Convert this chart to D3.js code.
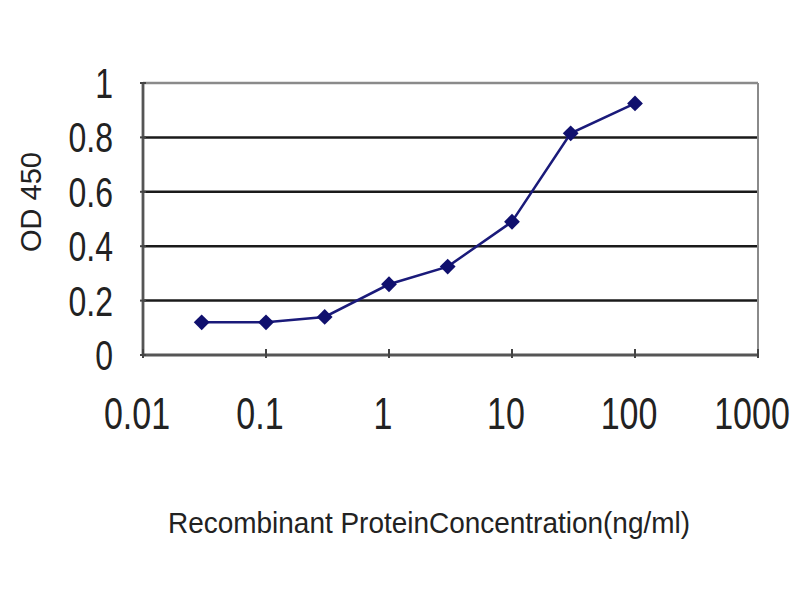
<!DOCTYPE html>
<html><head><meta charset="utf-8">
<script src="https://cdn.jsdelivr.net/npm/d3@7"></script>
<style>body{margin:0;background:#fff}</style>
</head><body>
<svg id="c" width="800" height="600"></svg>
<script>
const concentrations = [0.03, 0.1, 0.3, 1, 3, 10, 30, 100];
const odValues = [0.12, 0.12, 0.14, 0.26, 0.325, 0.49, 0.815, 0.925];
const xTicks = [0.01, 0.1, 1, 10, 100, 1000];
const xTickLabels = ["0.01", "0.1", "1", "10", "100", "1000"];
const yTicks = [0, 0.2, 0.4, 0.6, 0.8, 1];
const yTickLabels = ["0", "0.2", "0.4", "0.6", "0.8", "1"];

const svg = d3.select("#c");
const L = 143, R = 758, T = 83, B = 355;
const x = d3.scaleLog().domain([0.01, 1000]).range([L, R]);
const y = d3.scaleLinear().domain([0, 1]).range([B, T]);
const font = "'Liberation Sans', Arial, sans-serif";

// gridlines
svg.append("g").selectAll("line").data(yTicks.filter(v => v > 0 && v < 1)).join("line")
  .attr("x1", L).attr("x2", R).attr("y1", d => y(d)).attr("y2", d => y(d))
  .attr("stroke", "#1a1a1a").attr("stroke-width", 2.5);

// border top/right
svg.append("line").attr("x1", L).attr("x2", R).attr("y1", T).attr("y2", T).attr("stroke", "#8a8a8a").attr("stroke-width", 2.4);
svg.append("line").attr("x1", R).attr("x2", R).attr("y1", T).attr("y2", B).attr("stroke", "#8a8a8a").attr("stroke-width", 2);

// axes
svg.append("line").attr("x1", L).attr("x2", L).attr("y1", T).attr("y2", B).attr("stroke", "#555").attr("stroke-width", 2.8);
svg.append("line").attr("x1", L).attr("x2", R).attr("y1", B).attr("y2", B).attr("stroke", "#555").attr("stroke-width", 2.8);

// x tick marks
svg.append("g").selectAll("line").data(xTicks).join("line")
  .attr("x1", d => x(d)).attr("x2", d => x(d)).attr("y1", B - 6).attr("y2", B + 3)
  .attr("stroke", "#444").attr("stroke-width", 2);
// y tick marks
svg.append("g").selectAll("line").data(yTicks).join("line")
  .attr("x1", L - 3).attr("x2", L + 3).attr("y1", d => y(d)).attr("y2", d => y(d))
  .attr("stroke", "#444").attr("stroke-width", 2);

// y tick labels
svg.append("g").selectAll("text").data(yTicks).join("text")
  .attr("transform", d => `translate(113,${y(d)}) scale(1,1.3)`)
  .attr("text-anchor", "end").attr("dy", "0.36em")
  .attr("font-family", font).attr("font-size", 32).attr("fill", "#222")
  .text((d, i) => yTickLabels[i]);

// x tick labels
svg.append("g").selectAll("text").data(xTicks).join("text")
  .attr("transform", d => `translate(${x(d) - 6},413) scale(1,1.3)`)
  .attr("text-anchor", "middle").attr("dy", "0.36em")
  .attr("font-family", font).attr("font-size", 34).attr("fill", "#222")
  .text((d, i) => xTickLabels[i]);

// y axis title
svg.append("text")
  .attr("transform", "translate(31,202) rotate(-90)")
  .attr("text-anchor", "middle").attr("dy", "0.36em")
  .attr("font-family", font).attr("font-size", 29).attr("fill", "#222")
  .text("OD 450");

// x axis title
svg.append("text")
  .attr("transform", "translate(168,522) scale(1,1.15)")
  .attr("dy", "0.36em")
  .attr("font-family", font).attr("font-size", 26).attr("fill", "#222")
  .attr("textLength", 522).attr("lengthAdjust", "spacingAndGlyphs")
  .text("Recombinant ProteinConcentration(ng/ml)");

// data line
const data = concentrations.map((c, i) => ({c, v: odValues[i]}));
svg.append("path").datum(data)
  .attr("fill", "none").attr("stroke", "#1a1a7a").attr("stroke-width", 2.5)
  .attr("d", d3.line().x(d => x(d.c)).y(d => y(d.v)));

svg.append("g").selectAll("path").data(data).join("path")
  .attr("transform", d => `translate(${x(d.c)},${y(d.v)}) rotate(45)`)
  .attr("d", d3.symbol(d3.symbolSquare, 125)())
  .attr("fill", "#10106e");
</script>
</body></html>
